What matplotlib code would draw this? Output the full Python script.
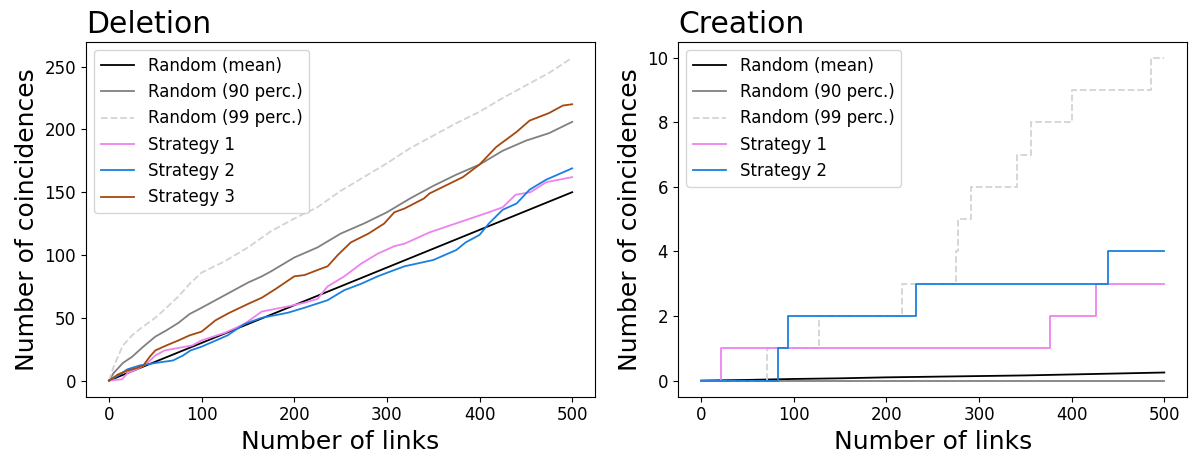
import numpy as np
import matplotlib
matplotlib.use("Agg")
import matplotlib.pyplot as plt

# ---- Deletion: cumulative coincidences vs number of links ----
del_mean_x = [0, 50, 100, 150, 200, 250, 300, 350, 400, 450, 500]
del_mean_y = [0, 15, 30, 45, 60, 75, 90, 105, 120, 135, 150]

del_p90_x = [0, 5, 15, 25, 37, 50, 62, 75, 87, 100, 125, 150, 165, 175, 200,
             225, 250, 275, 300, 325, 350, 375, 400, 425, 450, 475, 500]
del_p90_y = [0, 6, 14, 19, 27, 35, 40, 46, 53, 58, 68, 78, 83, 87, 98,
             106, 117, 125, 134, 145, 155, 164, 172, 183, 191, 197, 206]

del_p99_x = [0, 5, 15, 25, 35, 50, 62, 75, 87, 100, 125, 150, 175, 200,
             225, 250, 275, 300, 325, 350, 375, 400, 425, 450, 475, 500]
del_p99_y = [0, 11, 28, 36, 42, 50, 58, 67, 77, 86, 95, 106, 119, 129,
             138, 151, 162, 173, 185, 195, 205, 214, 225, 235, 245, 257]

s1_del_x = [0, 14, 20, 30, 40, 50, 60, 75, 90, 100, 125, 146, 165, 193, 211,
            225, 236, 254, 272, 290, 308, 319, 346, 382, 410, 425, 439, 455,
            472, 500]
s1_del_y = [0, 1, 6, 9, 13, 20, 24, 26, 28, 32, 38, 45, 55, 59, 62,
            65, 75, 83, 93, 101, 107, 109, 118, 127, 134, 138, 148, 150,
            158, 162]

s2_del_x = [0, 10, 20, 33, 50, 69, 80, 88, 100, 128, 146, 165, 193, 211, 236,
            254, 272, 290, 308, 319, 350, 375, 385, 400, 410, 425, 440, 454,
            472, 500]
s2_del_y = [0, 4, 9, 12, 14, 16, 20, 24, 27, 36, 45, 50, 54, 58, 64,
            72, 77, 83, 88, 91, 96, 104, 110, 116, 125, 136, 141, 152,
            160, 169]

s3_del_x = [0, 10, 20, 30, 37, 44, 50, 62, 75, 87, 100, 115, 130, 150, 165,
            180, 200, 211, 225, 236, 247, 261, 280, 297, 308, 319, 340, 346,
            382, 400, 418, 440, 454, 475, 490, 500]
s3_del_y = [0, 5, 8, 10, 12, 19, 24, 28, 32, 36, 39, 48, 54, 61, 66,
            73, 83, 84, 88, 91, 100, 110, 117, 125, 134, 137, 145, 149,
            162, 172, 186, 198, 207, 213, 219, 220]

# ---- Creation: step series (value holds until next change point) ----
cre_mean_x = [0, 50, 100, 150, 200, 250, 300, 350, 400, 450, 500]
cre_mean_y = [0, 0.02, 0.05, 0.07, 0.10, 0.12, 0.14, 0.16, 0.19, 0.22, 0.25]

cre_p90_x = [0, 500]
cre_p90_y = [0, 0]

cre_p99_x = [0, 71, 127, 217, 275.5, 277, 291.5, 341, 356, 400, 486, 500]
cre_p99_y = [0, 1, 2, 3, 4, 5, 6, 7, 8, 9, 10, 10]

s1_cre_x = [0, 21.5, 377, 426.5, 500]
s1_cre_y = [0, 1, 2, 3, 3]

s2_cre_x = [0, 83, 94, 232, 439.5, 500]
s2_cre_y = [0, 1, 2, 3, 4, 4]

c_mean = "black"
c_p90 = "grey"
c_p99 = "lightgrey"
c_s1 = "violet"
c_s2 = "#1a80e0"
c_s3 = "#a5480f"
lw = 1.3

fig = plt.figure(figsize=(11.89, 4.55), dpi=100)
ax1 = fig.add_axes([0.0722, 0.1281, 0.4285, 0.7803])
ax2 = fig.add_axes([0.5702, 0.1281, 0.4285, 0.7803])

ax1.plot(del_mean_x, del_mean_y, color=c_mean, lw=lw, label="Random (mean)")
ax1.plot(del_p90_x, del_p90_y, color=c_p90, lw=lw, label="Random (90 perc.)")
ax1.plot(del_p99_x, del_p99_y, color=c_p99, lw=lw, ls="--", label="Random (99 perc.)")
ax1.plot(s1_del_x, s1_del_y, color=c_s1, lw=lw, label="Strategy 1")
ax1.plot(s2_del_x, s2_del_y, color=c_s2, lw=lw, label="Strategy 2")
ax1.plot(s3_del_x, s3_del_y, color=c_s3, lw=lw, label="Strategy 3")

ax2.plot(cre_mean_x, cre_mean_y, color=c_mean, lw=lw, label="Random (mean)")
ax2.plot(cre_p90_x, cre_p90_y, color=c_p90, lw=lw, label="Random (90 perc.)")
ax2.plot(cre_p99_x, cre_p99_y, color=c_p99, lw=lw, ls="--",
         drawstyle="steps-post", label="Random (99 perc.)")
ax2.plot(s1_cre_x, s1_cre_y, color=c_s1, lw=lw, drawstyle="steps-post", label="Strategy 1")
ax2.plot(s2_cre_x, s2_cre_y, color=c_s2, lw=lw, drawstyle="steps-post", label="Strategy 2")

for ax, title in [(ax1, "Deletion"), (ax2, "Creation")]:
    ax.set_title(title, loc="left", fontsize=21.5)
    ax.set_xlabel("Number of links", fontsize=18)
    ax.set_ylabel("Number of coincidences", fontsize=18)
    ax.tick_params(labelsize=12)
    ax.set_xticks([0, 100, 200, 300, 400, 500])
    ax.legend(loc="upper left", fontsize=12)

ax2.set_yticks([0, 2, 4, 6, 8, 10])

fig.savefig("out.png", dpi=100)
